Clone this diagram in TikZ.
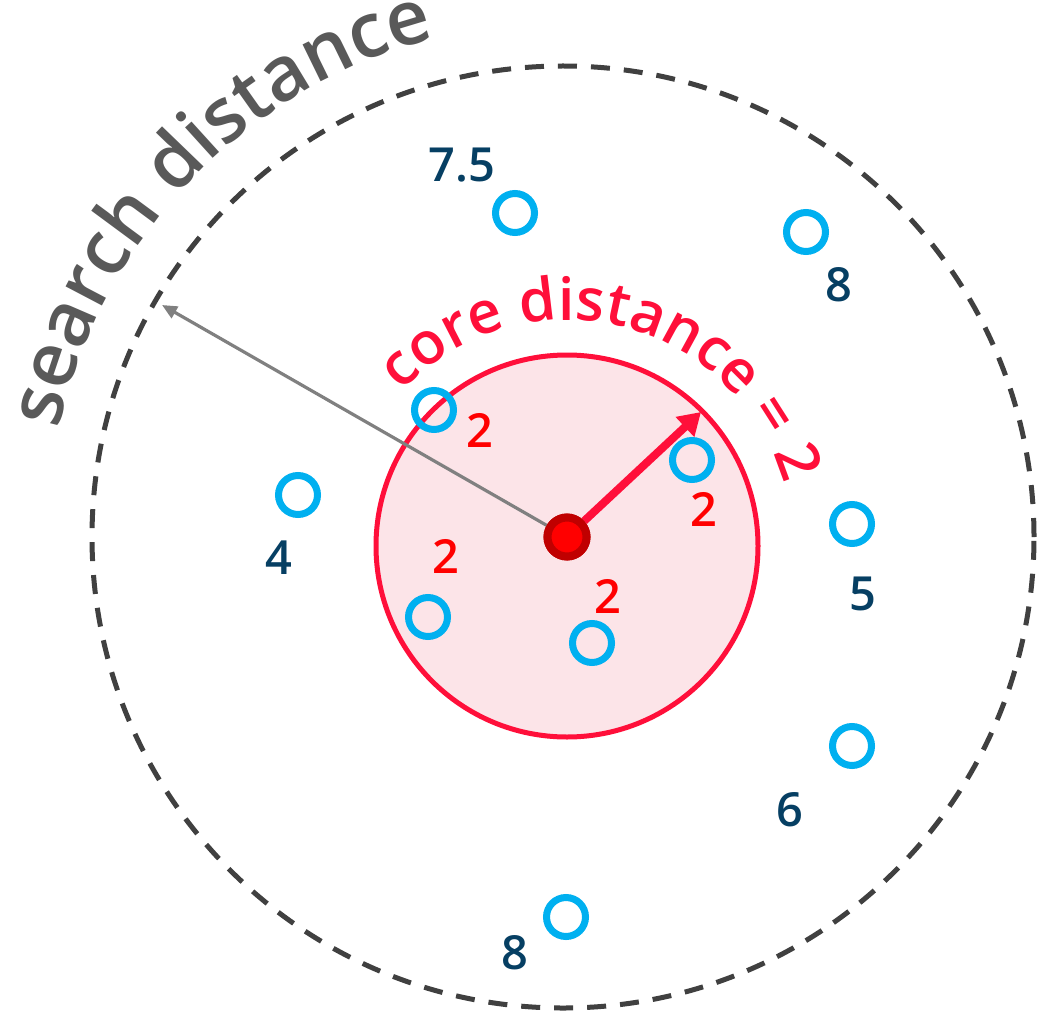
\documentclass[tikz,border=0pt]{standalone}
\usepackage{fontspec}
\setmainfont{Open Sans}
\newfontfamily\semib{Open Sans Semibold}
\usetikzlibrary{arrows.meta,calc,decorations.text}
\definecolor{ptblue}{HTML}{00B0F0}
\definecolor{lbldark}{HTML}{063F63}
\definecolor{lblred}{HTML}{FF0000}
\definecolor{corered}{HTML}{FF0F3A}
\definecolor{corefill}{HTML}{FCE4E8}
\definecolor{dotring}{HTML}{C00000}
\definecolor{searchgrey}{HTML}{595959}
\definecolor{dashgrey}{HTML}{404040}
\definecolor{arrowgrey}{HTML}{808080}
\tikzset{
  ptnode/.style={circle, draw=ptblue, line width=7pt, minimum size=39pt, inner sep=0pt},
  lbl/.style={font=\semib\fontsize{47}{47}\selectfont, inner sep=0pt},
  lbldk/.style={lbl, text=lbldark},
  lblrd/.style={lbl, text=lblred},
}
\begin{document}
\begin{tikzpicture}[x=1pt, y=-1pt]
\useasboundingbox[fill=white] (0,0) rectangle (1038,1016);
% search circle
\node[circle, draw=dashgrey, line width=5pt, dash pattern=on 19pt off 14pt, minimum size=942pt, inner sep=0pt] (search) at (563,537) {};
% core circle
\node[circle, draw=corered, fill=corefill, line width=5pt, minimum size=382pt, inner sep=0pt] (core) at (567,546) {};
% points
\node[ptnode] (p1) at (515,213) {};
\node[ptnode] (p2) at (806,232) {};
\node[ptnode] (p3) at (434,410) {};
\node[ptnode] (p4) at (692,460) {};
\node[ptnode] (p5) at (298,495) {};
\node[ptnode] (p6) at (852,524) {};
\node[ptnode] (p7) at (428,617) {};
\node[ptnode] (p8) at (592,643) {};
\node[ptnode] (p9) at (852,746) {};
\node[ptnode] (p10) at (566,917) {};
% labels
\node[lbldk] (l1) at (462,165) {7.5};
\node[lbldk] (l2) at (839,285) {8};
\node[lblrd] (l3) at (480,430) {2};
\node[lblrd] (l4) at (704,509) {2};
\node[lbldk] (l5) at (279,558) {4};
\node[lblrd] (l6) at (446,556) {2};
\node[lblrd] (l7) at (608,596) {2};
\node[lbldk] (l8) at (863,594) {5};
\node[lbldk] (l9) at (790,810) {6};
\node[lbldk] (l10) at (515,953) {8};
% arrows
\coordinate (gtip) at (162,305);
\coordinate (rtip) at (701,412);
\node[circle, fill=lblred, draw=dotring, line width=8pt, minimum size=39pt, inner sep=0pt] (c) at (567,537) {};
\draw[arrowgrey, line width=3.2pt, -{Triangle[length=15pt,width=13pt]}] (c) -- (gtip);
\draw[corered, line width=8pt, -{Triangle[length=22pt,width=26pt]}] (c) -- (rtip);
\node[circle, fill=lblred, draw=dotring, line width=8pt, minimum size=39pt, inner sep=0pt] at (c) {};
% curved texts
\path[decorate, decoration={text along path, text align={left indent=0pt},
  text color=searchgrey,
  text={|\semib\fontsize{76}{76}\selectfont|search distance}}]
  ($(search.center)+(-168:515)$) arc[start angle=-168, end angle=-20, radius=515];
\path[decorate, decoration={text along path, text align={left indent=0pt},
  text color=corered,
  text={|\semib\fontsize{59}{59}\selectfont|core distance = 2}}]
  ($(core.center)+(-137:226)$) arc[start angle=-137, end angle=30, radius=226];
\end{tikzpicture}
\end{document}
